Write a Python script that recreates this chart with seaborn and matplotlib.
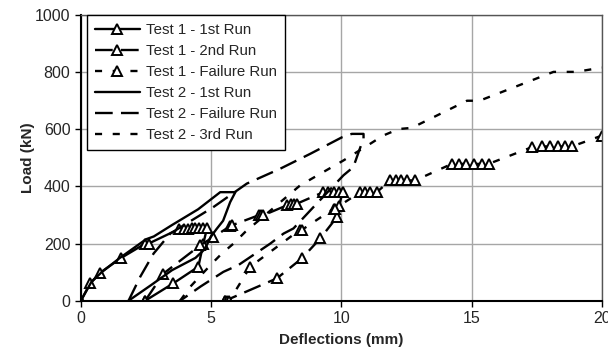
import numpy as np
import pandas as pd
import matplotlib
matplotlib.use("Agg")
import matplotlib.pyplot as plt
import seaborn as sns

sns.set_style("white")
plt.rcParams['font.family'] = ['Liberation Sans', 'DejaVu Sans']

# Test 1 - 1st Run
t1r1_x = [0, 0.36, 0.74, 1.55, 2.47, 2.6, 3.75, 3.95, 4.1, 4.25, 4.4, 4.55, 4.7, 4.84,
          4.7, 4.51, 3.55, 2.47]
t1r1_y = [0, 61, 98, 150, 200, 200, 250, 252, 252, 253, 253, 253, 253, 253,
          200, 119, 61, 0]

# Test 1 - 2nd Run
t1r2_x = [2.47, 3.17, 4.58, 5.09, 5.73, 5.8, 6.82, 6.9, 7.0, 7.91, 8.05, 8.2, 8.3,
          9.31, 9.5, 9.7, 9.9, 10.05, 9.9, 9.83, 9.19, 8.48, 7.52, 5.54]
t1r2_y = [0, 95, 194, 223, 261, 264, 299, 299, 299, 334, 340, 340, 340,
          380, 380, 380, 380, 380, 330, 293, 218, 148, 78, 0]

# Test 1 - Failure Run
t1f_x = [5.54, 5.6, 5.7, 6.5, 8.42, 8.5, 9.7, 9.75, 10.72, 10.9, 11.1, 11.36,
         11.87, 12.1, 12.3, 12.5, 12.83, 14.24, 14.5, 14.8, 15.1, 15.4, 15.65,
         17.3, 17.7, 18.0, 18.3, 18.6, 18.85, 20.0]
t1f_y = [0, 0, 0, 119, 249, 249, 322, 322, 380, 380, 380, 380,
         421, 421, 421, 421, 421, 479, 479, 479, 479, 479, 479,
         537, 540, 540, 540, 540, 540, 578]

# Test 2 - 1st Run
t2r1_x = [0, 0.4, 0.8, 1.5, 2.5, 2.8, 3.5, 4.5, 5.35, 5.93, 5.73, 5.46, 5.2, 5.0,
          4.75, 4.4, 3.5, 2.7, 1.83]
t2r1_y = [0, 65, 100, 150, 215, 225, 265, 320, 380, 380, 345, 280, 250, 225,
          180, 150, 107, 55, 0]

# Test 2 - Failure Run
t2f_x = [1.83, 2.28, 2.79, 3.43, 5.09, 6.37, 7.65, 8.8, 10.02, 10.4, 10.85, 10.85,
         10.66, 10.46, 10.08, 8.93, 8.16, 7.78, 7.27, 6.05, 5.47, 4.6, 3.81]
t2f_y = [0, 84, 165, 235, 328, 410, 462, 514, 572, 584, 584, 568,
         520, 468, 439, 328, 253, 235, 200, 125, 101, 50, 0]

# Test 2 - 3rd Run
t2r3_x = [3.81, 4.2, 5.03, 5.41, 5.86, 6.31, 8.42, 10.08, 11.1, 11.6, 12.2, 12.7,
          14.82, 15.3, 18.14, 19.0, 20.0]
t2r3_y = [0, 49, 130, 165, 200, 241, 404, 491, 549, 578, 601, 605,
          700, 700, 801, 801, 816]

fig, ax = plt.subplots(figsize=(6.08, 3.58), dpi=100)
fig.subplots_adjust(left=0.133, right=0.99, bottom=0.16, top=0.958)

lw = 1.7
long_dash = (0, (7.5, 3.5))
short_dash = (0, (3, 4.5))
mk = dict(marker='^', markersize=7.5, markerfacecolor='white',
          markeredgecolor='black', markeredgewidth=1.4)

series = [
    (t1r1_x, t1r1_y, "Test 1 - 1st Run", '-', True),
    (t1r2_x, t1r2_y, "Test 1 - 2nd Run", long_dash, True),
    (t1f_x, t1f_y, "Test 1 - Failure Run", short_dash, True),
    (t2r1_x, t2r1_y, "Test 2 - 1st Run", '-', False),
    (t2f_x, t2f_y, "Test 2 - Failure Run", long_dash, False),
    (t2r3_x, t2r3_y, "Test 2 - 3rd Run", short_dash, False),
]

for xs, ys, name, ls, has_mk in series:
    df = pd.DataFrame({"x": xs, "y": ys})
    extra = mk if has_mk else {}
    sns.lineplot(data=df, x="x", y="y", sort=False, estimator=None, ax=ax,
                 color='black', linewidth=lw, linestyle=ls, label=name, **extra)

ax.set_xlim(0, 20)
ax.set_ylim(0, 1000)
ax.set_xticks([0, 5, 10, 15, 20])
ax.set_yticks([0, 200, 400, 600, 800, 1000])
ax.grid(True, color='#a6a6a6', linewidth=1)
ax.set_axisbelow(True)
ax.tick_params(axis='both', labelsize=11.5, direction='out', length=4, width=1,
               color='black', bottom=True, left=True)
for s in ['left', 'bottom']:
    ax.spines[s].set_color('black')
    ax.spines[s].set_linewidth(1.5)
for s in ['top', 'right']:
    ax.spines[s].set_color('#555555')
    ax.spines[s].set_linewidth(1)

ax.set_xlabel("Deflections (mm)", fontsize=11, fontweight='bold', labelpad=5)
ax.set_ylabel("Load (kN)", fontsize=11, fontweight='bold', labelpad=0)

leg = ax.legend(loc='upper left', bbox_to_anchor=(0.011, 1.0), borderaxespad=0,
                fontsize=10.8, handlelength=3.0, frameon=True, fancybox=False,
                framealpha=1, edgecolor='black', labelspacing=0.46,
                handletextpad=0.4, borderpad=0.55)
leg.get_frame().set_linewidth(1)

fig.savefig("out.png", dpi=100)
